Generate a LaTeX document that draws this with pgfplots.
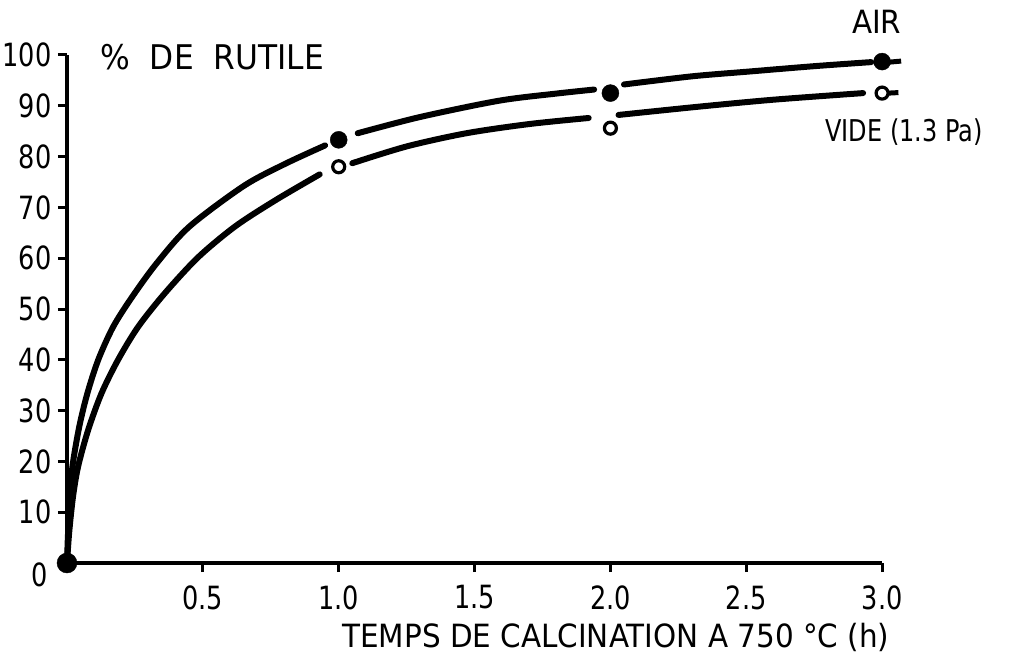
\documentclass[border=0pt]{standalone}
\usepackage{fontspec}
\setmainfont{DejaVu Sans}[FakeStretch=0.8]
\newfontfamily\widefont{DejaVu Sans}[FakeStretch=0.92]
\usepackage{pgfplots}
\pgfplotsset{compat=1.18}
\begin{document}
\begin{tikzpicture}
\useasboundingbox (-67pt,-102pt) rectangle (948pt,563pt);
\begin{axis}[
 anchor=south west, at={(0pt,0pt)},
 x=271.7pt, y=5.08pt,
 xmin=0,xmax=3,ymin=0,ymax=100,
 axis lines=left, axis line style={-, line width=3.5pt},
 clip=false,
 xtick={0.5,1,1.5,2,2.5,3}, xticklabels={0.5,1.0,1.5,2.0,2.5,3.0},
 ytick={10,20,...,100},
 tick align=outside, major tick length=9pt,
 tick style={line width=3pt, black},
 ticklabel style={font=\fontsize{32}{32}\selectfont},
 xticklabel style={yshift=-10pt},
 yticklabel style={xshift=-3pt},
 /pgf/number format/assume math mode=true,
]
% AIR curve
\addplot[black, line width=6pt, smooth, line cap=round] coordinates {(0,0) (0.004,6) (0.012,13) (0.02,19) (0.045,26.8) (0.075,33.4) (0.115,40) (0.17,46.5) (0.24,52.4) (0.33,59) (0.45,66.2) (0.65,74.2) (0.8,78.5) (0.95,82.2)};
\addplot[black, line width=6pt, smooth, line cap=round] coordinates {(1.07,84.6) (1.3,87.8) (1.59,91) (1.8,92.4) (1.94,93.2)};
\addplot[black, line width=6pt, smooth, line cap=round] coordinates {(2.05,94.2) (2.3,95.8) (2.5,96.7) (2.75,97.8) (2.96,98.6)};
\addplot[black, line width=5pt] coordinates {(3.028,98.6) (3.07,98.8)};
% VIDE curve
\addplot[black, line width=6pt, smooth, line cap=round] coordinates {(0,0) (0.008,6) (0.022,13) (0.041,19) (0.078,26.2) (0.127,33.4) (0.188,40) (0.262,46.5) (0.36,53.1) (0.483,60.2) (0.62,66.3) (0.77,71.5) (0.93,76.5)};
\addplot[black, line width=6pt, smooth, line cap=round] coordinates {(1.05,78.7) (1.25,82) (1.47,84.6) (1.7,86.4) (1.92,87.6)};
\addplot[black, line width=6pt, smooth, line cap=round] coordinates {(2.03,88.2) (2.32,89.8) (2.6,91.2) (2.93,92.5)};
\addplot[black, line width=5pt] coordinates {(3.025,92.5) (3.06,92.6)};
% markers
\addplot[only marks, mark=*, mark size=10pt, black] coordinates {(0,0)};
\addplot[only marks, mark=*, mark size=8.5pt, black] coordinates {(1,83.3) (2,92.5) (3,98.7)};
\addplot[only marks, mark=o, mark size=6pt, line width=3.2pt, black, mark options={fill=white}] coordinates {(1,78) (2,85.6) (3,92.5)};
% labels
\node[anchor=west, font=\widefont\fontsize{34}{34}\selectfont] at (axis cs:0.11,99.6) {\%\ \ DE\ \ RUTILE};
\node[font=\widefont\fontsize{32}{32}\selectfont] at (axis cs:2.98,106.5) {AIR};
\node[anchor=west, inner sep=0pt, font=\fontsize{30}{30}\selectfont] at (axis cs:2.79,84.8) {VIDE (1.3 Pa)};
\node[font=\widefont\fontsize{32}{32}\selectfont] at (axis cs:2.02,0) [yshift=-74pt] {TEMPS DE CALCINATION A 750 °C (h)};
\node[font=\fontsize{32}{32}\selectfont] at (axis cs:0,0) [xshift=-27pt, yshift=-12pt] {0};
\end{axis}
\end{tikzpicture}
\end{document}
